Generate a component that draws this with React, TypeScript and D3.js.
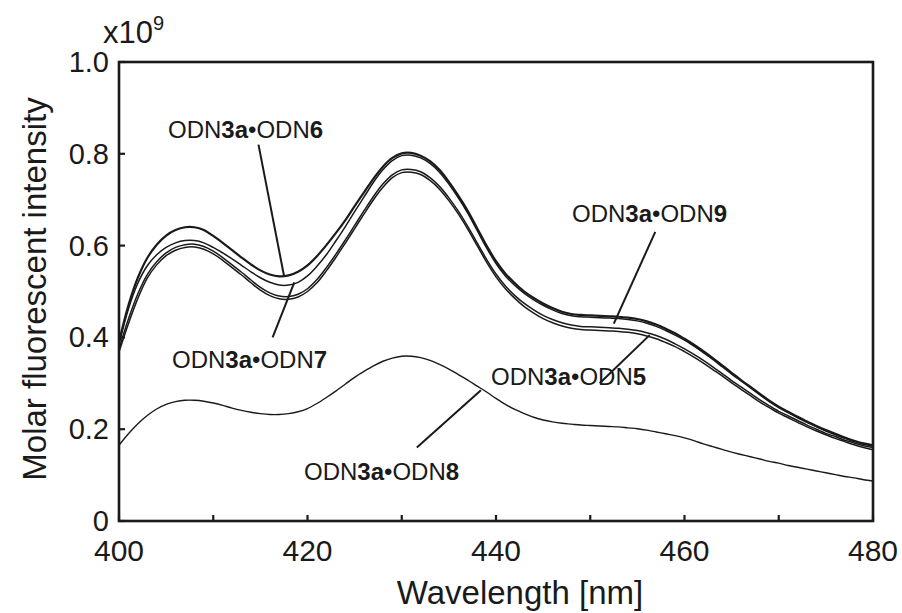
import React from "react";
import * as d3 from "d3";

const wavelengths: number[] = d3.range(400, 481, 1);

const odn6: number[] = [0.390,0.470,0.530,0.573,0.602,0.622,0.634,0.640,0.640,0.634,0.621,0.606,0.590,0.574,0.559,0.546,0.537,0.533,0.535,0.543,0.557,0.577,0.601,0.627,0.655,0.686,0.716,0.746,0.772,0.791,0.801,0.802,0.796,0.784,0.765,0.739,0.709,0.676,0.638,0.600,0.566,0.539,0.518,0.500,0.486,0.474,0.464,0.456,0.451,0.449,0.448,0.447,0.446,0.445,0.443,0.440,0.435,0.428,0.419,0.409,0.397,0.384,0.370,0.355,0.339,0.323,0.307,0.292,0.277,0.262,0.249,0.238,0.227,0.217,0.207,0.198,0.190,0.182,0.175,0.169,0.165];
const odn7: number[] = [0.385,0.462,0.518,0.556,0.580,0.596,0.606,0.611,0.611,0.606,0.596,0.584,0.571,0.557,0.543,0.530,0.520,0.514,0.514,0.520,0.534,0.555,0.580,0.610,0.641,0.674,0.706,0.738,0.765,0.785,0.796,0.797,0.791,0.779,0.760,0.734,0.704,0.671,0.633,0.595,0.561,0.534,0.513,0.496,0.482,0.470,0.460,0.452,0.447,0.445,0.444,0.443,0.442,0.441,0.439,0.436,0.431,0.424,0.415,0.405,0.394,0.381,0.367,0.352,0.336,0.320,0.305,0.290,0.275,0.260,0.247,0.236,0.225,0.215,0.205,0.196,0.188,0.180,0.173,0.167,0.163];
const odn9: number[] = [0.375,0.440,0.495,0.537,0.565,0.584,0.596,0.602,0.603,0.598,0.588,0.574,0.558,0.542,0.525,0.509,0.497,0.490,0.489,0.494,0.506,0.526,0.552,0.581,0.612,0.644,0.676,0.707,0.734,0.754,0.765,0.766,0.761,0.748,0.729,0.704,0.675,0.642,0.606,0.570,0.538,0.512,0.491,0.474,0.460,0.448,0.439,0.432,0.427,0.424,0.423,0.422,0.421,0.420,0.418,0.415,0.410,0.404,0.396,0.386,0.375,0.363,0.350,0.336,0.321,0.306,0.292,0.278,0.264,0.251,0.239,0.229,0.219,0.209,0.200,0.191,0.184,0.176,0.170,0.164,0.160];
const odn5: number[] = [0.368,0.430,0.485,0.529,0.558,0.578,0.590,0.596,0.597,0.592,0.582,0.568,0.552,0.536,0.519,0.503,0.491,0.484,0.483,0.488,0.500,0.519,0.545,0.574,0.605,0.637,0.669,0.700,0.727,0.748,0.759,0.760,0.755,0.742,0.723,0.698,0.669,0.636,0.600,0.564,0.532,0.506,0.485,0.467,0.453,0.441,0.432,0.425,0.420,0.417,0.416,0.415,0.414,0.413,0.411,0.408,0.403,0.397,0.389,0.380,0.369,0.357,0.344,0.330,0.316,0.301,0.287,0.273,0.259,0.247,0.235,0.225,0.215,0.205,0.196,0.188,0.180,0.173,0.166,0.160,0.155];
const odn8: number[] = [0.165,0.190,0.212,0.230,0.244,0.254,0.260,0.263,0.263,0.261,0.257,0.252,0.246,0.241,0.237,0.234,0.232,0.232,0.234,0.238,0.245,0.256,0.269,0.283,0.298,0.313,0.326,0.338,0.348,0.355,0.359,0.359,0.356,0.350,0.341,0.331,0.319,0.307,0.294,0.281,0.267,0.254,0.243,0.234,0.226,0.220,0.216,0.213,0.211,0.209,0.208,0.207,0.206,0.205,0.203,0.201,0.198,0.194,0.190,0.186,0.181,0.175,0.168,0.162,0.156,0.150,0.145,0.140,0.135,0.130,0.126,0.121,0.117,0.113,0.109,0.105,0.101,0.097,0.094,0.090,0.087];

const xTicks: number[] = [400, 410, 420, 430, 440, 450, 460, 470, 480];
const xTickLabels: number[] = [400, 420, 440, 460, 480];
const yTicks: number[] = [0, 0.2, 0.4, 0.6, 0.8, 1.0];
const yTickLabels: string[] = ["0", "0.2", "0.4", "0.6", "0.8", "1.0"];

// label: [label x, label baseline y, line x1 (nm), line y1 (value), line x2 (nm), line y2 (value)]
const labelNames: string[] = ["6", "7", "9", "5", "8"];
const labelPos: number[][] = [
  [168, 138, 414.8, 0.82, 417.5, 0.535],
  [172, 368, 416.3, 0.40, 418.6, 0.52],
  [572, 222, 456.9, 0.63, 452.5, 0.43],
  [491, 385, 451.0, 0.30, 456.3, 0.405],
  [304, 480, 431.6, 0.16, 438.4, 0.285],
];

const W = 902, H = 613;
const FONT = "'Liberation Sans', Arial, Helvetica, sans-serif";

export default function App() {
  const x = d3.scaleLinear().domain([400, 480]).range([119, 873]);
  const y = d3.scaleLinear().domain([0, 1]).range([521, 62]);
  const line = d3
    .line<number>()
    .x((_, i) => x(wavelengths[i]))
    .y((d) => y(d))
    .curve(d3.curveCatmullRom);

  const series = [
    { v: odn8, w: 1.4 },
    { v: odn5, w: 1.5 },
    { v: odn9, w: 1.5 },
    { v: odn7, w: 1.5 },
    { v: odn6, w: 2.2 },
  ];
  const [x0, x1] = x.range();
  const [y0, y1] = y.range();

  return (
    <svg width={W} height={H} style={{ position: "absolute", left: 0, top: 0, background: "#fff" }} fontFamily={FONT}>
      <rect x={0} y={0} width={W} height={H} fill="#fff" />
      {series.map((s, i) => (
        <path key={i} d={line(s.v) || ""} fill="none" stroke="#1a1a1a" strokeWidth={s.w} strokeLinejoin="round" />
      ))}
      <rect x={x0} y={y1} width={x1 - x0} height={y0 - y1} fill="none" stroke="#1a1a1a" strokeWidth={2.6} />
      {xTicks.map((t) => (
        <line key={"xt" + t} x1={x(t)} x2={x(t)} y1={y0} y2={y0 - 6} stroke="#1a1a1a" strokeWidth={2.2} />
      ))}
      {xTickLabels.map((t) => (
        <text key={"xl" + t} x={x(t)} y={561} fontSize={30} textAnchor="middle" fill="#1a1a1a">
          {t}
        </text>
      ))}
      {yTicks.map((t, i) => (
        <g key={"yt" + t}>
          <line x1={x0} x2={x0 + 6} y1={y(t)} y2={y(t)} stroke="#1a1a1a" strokeWidth={2.2} />
          <text x={109} y={y(t) + 10} fontSize={29} textAnchor="end" fill="#1a1a1a">
            {yTickLabels[i]}
          </text>
        </g>
      ))}
      <text x={103} y={43} fontSize={31} fill="#1a1a1a">
        x10
        <tspan fontSize={20} dy={-13}>9</tspan>
      </text>
      <text x={520} y={604} fontSize={33} textAnchor="middle" fill="#1a1a1a">
        Wavelength [nm]
      </text>
      <text transform={`translate(46,${289}) rotate(-90)`} fontSize={33} textAnchor="middle" fill="#1a1a1a">
        Molar fluorescent intensity
      </text>
      {labelPos.map((p, i) => (
        <g key={"lab" + i}>
          <line x1={x(p[2])} y1={y(p[3])} x2={x(p[4])} y2={y(p[5])} stroke="#1a1a1a" strokeWidth={2} />
          <text x={p[0]} y={p[1]} fontSize={24} fill="#1a1a1a">
            ODN<tspan fontWeight="bold">3a</tspan>•ODN<tspan fontWeight="bold">{labelNames[i]}</tspan>
          </text>
        </g>
      ))}
    </svg>
  );
}
